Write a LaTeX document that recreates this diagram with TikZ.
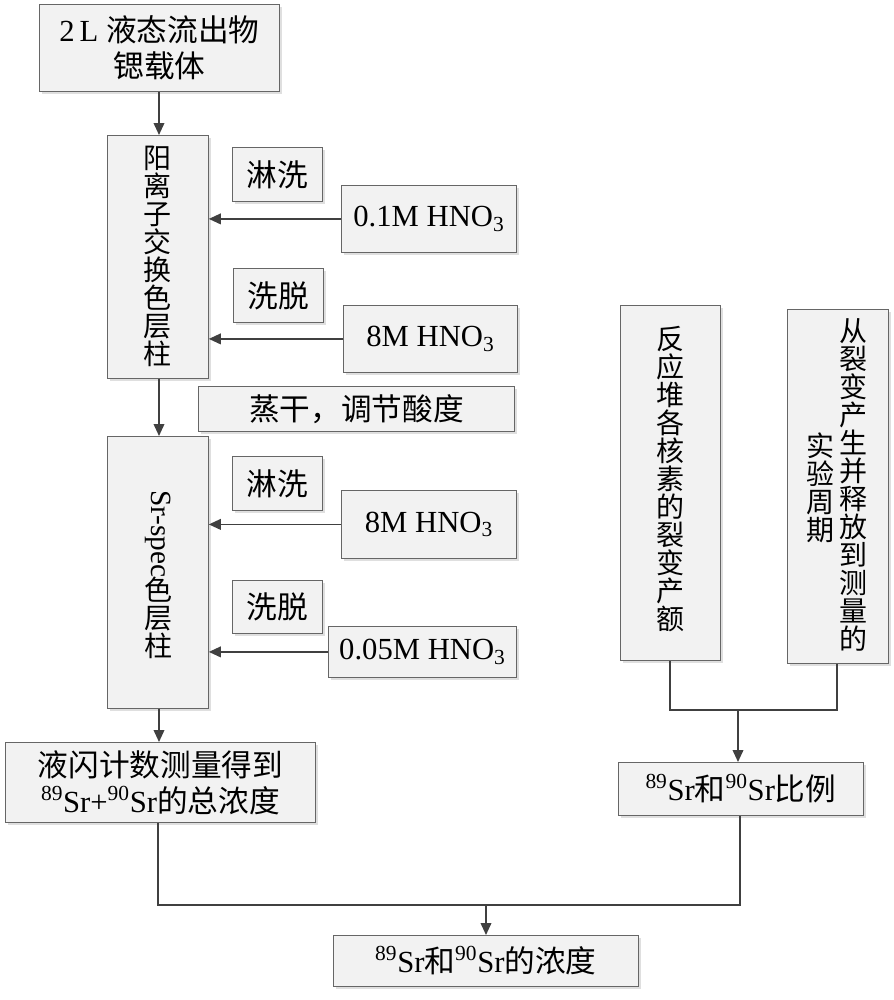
\documentclass[tikz,border=0pt]{standalone}
\usepackage{fontspec}
\setmainfont{Liberation Serif}
\newfontfamily\cjk{Noto Sans CJK SC}
\usetikzlibrary{shadows,arrows.meta}
\begin{document}
\begin{tikzpicture}[x=0.75pt,y=-0.75pt,
 box/.style={draw=gray!80!black,fill=gray!10,line width=0.6pt,drop shadow={opacity=0.25,shadow xshift=2pt,shadow yshift=-2pt},inner sep=0pt,align=center,font=\fontsize{23}{27}\selectfont},
 vt/.style={align=center,font=\fontsize{21}{21}\selectfont\cjk,inner sep=0pt},
 ar/.style={-{Triangle[length=9pt,width=8pt]},line width=1.2pt,draw=black!75},
 ln/.style={line width=1.2pt,draw=black!75}]
\useasboundingbox (0,0) rectangle (893,1000);
\newcommand{\bx}[6]{\node[box,minimum width={(#4-#2)*0.75pt},minimum height={(#5-#3)*0.75pt},anchor=north west] (#1) at (#2,#3) {#6};}
\bx{top}{39}{4}{279}{91}{2\,L {\cjk 液态流出物}\\{\cjk 锶载体}}
\bx{cat}{107}{135}{208}{378}{}
\node[vt,anchor=north] at (cat.north |- 0,146) {阳\\离\\子\\交\\换\\色\\层\\柱};
\bx{w1}{232}{147}{322}{201}{\cjk 淋洗}
\bx{h1}{341}{185}{516}{252}{0.1M HNO\textsubscript{3}}
\bx{e1}{233}{268}{323}{322}{\cjk 洗脱}
\bx{h2}{343}{305}{517}{372}{8M HNO\textsubscript{3}}
\bx{dry}{198}{386}{514}{431}{\cjk 蒸干，调节酸度}
\bx{sr}{107}{436}{208}{708}{}
\node[rotate=-90,anchor=west,inner sep=0pt,font=\fontsize{22}{22}\selectfont] (srt) at (158,490) {Sr-spec};
\node[vt,anchor=north] at (158,577) {色\\层\\柱};
\bx{w2}{232}{456}{322}{510}{\cjk 淋洗}
\bx{h3}{341}{490}{516}{558}{8M HNO\textsubscript{3}}
\bx{e2}{232}{580}{322}{633}{\cjk 洗脱}
\bx{h4}{328}{626}{516}{677}{0.05M HNO\textsubscript{3}}
\bx{lsc}{5}{742}{315}{822}{{\cjk 液闪计数测量得到}\\\textsuperscript{89}Sr+\textsuperscript{90}Sr{\cjk 的总浓度}}
\bx{fy}{620}{305}{720}{660}{}
\node[vt,anchor=north] at (fy.north |- 0,326) {反\\应\\堆\\各\\核\\素\\的\\裂\\变\\产\\额};
\bx{per}{787}{309}{888}{663}{}
\node[vt,anchor=north] at (853,318) {从\\裂\\变\\产\\生\\并\\释\\放\\到\\测\\量\\的};
\node[vt,anchor=north] at (820,433) {实\\验\\周\\期};
\bx{rat}{618}{762}{863}{815}{\textsuperscript{89}Sr{\cjk 和}\textsuperscript{90}Sr{\cjk 比例}}
\bx{fin}{333}{935}{638}{986}{\textsuperscript{89}Sr{\cjk 和}\textsuperscript{90}Sr{\cjk 的浓度}}
\draw[ar] (top.south -| 159,0) -- (cat.north -| 159,0);
\draw[ar] (cat.south -| 159,0) -- (sr.north -| 159,0);
\draw[ar] (sr.south -| 159,0) -- (lsc.north -| 159,0);
\draw[ar] (h1.west) -- (cat.east |- h1.west);
\draw[ar] (h2.west) -- (cat.east |- h2.west);
\draw[ar] (h3.west) -- (sr.east |- h3.west);
\draw[ar] (h4.west) -- (sr.east |- h4.west);
\coordinate (j1) at (738,710);
\draw[ln] (fy.south -| 670,0) |- (j1);
\draw[ln] (per.south -| 837,0) |- (j1);
\draw[ar] (j1) -- (rat.north -| j1);
\coordinate (j2) at (486,905);
\draw[ln] (lsc.south -| 158,0) |- (j2);
\draw[ln] (rat.south -| 740,0) |- (j2);
\draw[ar] (j2) -- (fin.north -| j2);
\end{tikzpicture}
\end{document}
